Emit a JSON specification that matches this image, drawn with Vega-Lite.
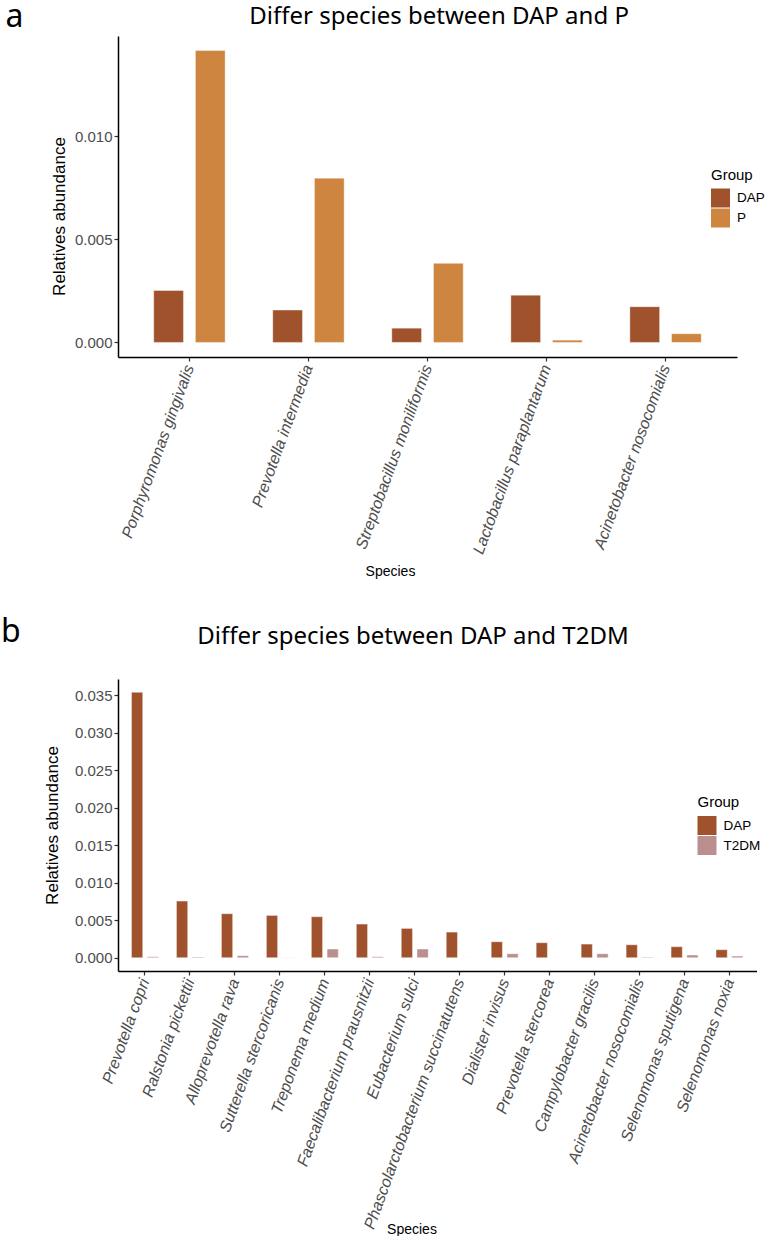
{
  "$schema": "https://vega.github.io/schema/vega-lite/v6.json",
  "background": "white",
  "padding": {"left": 0, "top": 0, "right": 0, "bottom": 0},
  "spacing": 37,
  "config": {
    "view": {"stroke": null},
    "font": "Liberation Sans",
    "axis": {"grid": false, "domainColor": "black", "domainWidth": 1.5, "tickColor": "#333333", "tickWidth": 1.2, "tickSize": 4, "labelColor": "#4D4D4D", "labelFont": "Liberation Sans", "titleFont": "Liberation Sans", "titleColor": "black", "titleFontWeight": "normal"},
    "legend": {"titleFont": "Liberation Sans", "titleFontSize": 15, "titleFontWeight": "normal", "titleColor": "black", "labelFont": "Liberation Sans", "labelFontSize": 13.5, "labelColor": "black", "symbolType": "square", "symbolSize": 361, "symbolStrokeWidth": 0, "rowPadding": 1, "labelOffset": 7, "titlePadding": 6}
  },
  "resolve": {"scale": {"color": "independent", "x": "independent", "y": "independent", "xOffset": "independent"}, "legend": {"color": "independent"}},
  "vconcat": [
    {
      "width": 619,
      "height": 321,
      "data": {"values": [
        {"Species": "Porphyromonas gingivalis", "Group": "DAP", "Abundance": 0.00252},
        {"Species": "Porphyromonas gingivalis", "Group": "P", "Abundance": 0.01414},
        {"Species": "Prevotella intermedia", "Group": "DAP", "Abundance": 0.00157},
        {"Species": "Prevotella intermedia", "Group": "P", "Abundance": 0.00796},
        {"Species": "Streptobacillus moniliformis", "Group": "DAP", "Abundance": 0.00069},
        {"Species": "Streptobacillus moniliformis", "Group": "P", "Abundance": 0.00383},
        {"Species": "Lactobacillus paraplantarum", "Group": "DAP", "Abundance": 0.00229},
        {"Species": "Lactobacillus paraplantarum", "Group": "P", "Abundance": 0.00011},
        {"Species": "Acinetobacter nosocomialis", "Group": "DAP", "Abundance": 0.00173},
        {"Species": "Acinetobacter nosocomialis", "Group": "P", "Abundance": 0.00042}
      ]},
      "layer": [
        {
          "mark": {"type": "bar", "stroke": "white", "strokeWidth": 0.6, "strokeOpacity": 0.7},
          "encoding": {
            "x": {"field": "Species", "type": "nominal", "sort": null,
              "scale": {"paddingInner": 0.4, "paddingOuter": 0.3},
              "axis": {"orient": "bottom", "title": "Species", "titleFontSize": 14, "titleX": 272, "titleY": 214, "titleAlign": "center", "titleBaseline": "middle", "labelAngle": -70, "labelAlign": "right", "labelBaseline": "middle", "labelFontSize": 16, "labelFontStyle": "italic", "labelPadding": 4, "labelLimit": 0, "labelOverlap": false, "labelFlush": false}},
            "xOffset": {"field": "Group", "type": "nominal", "sort": ["DAP", "P"], "scale": {"paddingInner": 0.286, "paddingOuter": 0}},
            "y": {"field": "Abundance", "type": "quantitative", "stack": null,
              "scale": {"domain": [-0.000707, 0.014847], "nice": false},
              "axis": {"orient": "left", "values": [0, 0.005, 0.01], "format": ".3f", "labelFontSize": 15, "labelPadding": 2, "title": "Relatives abundance", "titleFontSize": 17, "titleX": -59, "titleY": 180, "titleAngle": -90, "titleAlign": "center", "titleBaseline": "middle"}},
            "color": {"field": "Group", "type": "nominal",
              "scale": {"domain": ["DAP", "P"], "range": ["#A0522D", "#CD853F"]},
              "legend": {"title": "Group", "orient": "none", "legendX": 593, "legendY": 131.5}}
          }
        },
        {
          "transform": [{"filter": "false"}],
          "mark": {"type": "point", "opacity": 0},
          "encoding": {
            "x": {"field": "Species", "type": "nominal", "sort": null,
              "axis": {"orient": "top", "labels": false, "ticks": false, "domain": false, "title": "Differ species between DAP and P", "titleFont": "Noto Sans", "titleFontSize": 24, "titleX": 320.6, "titleY": -12.6, "titleAlign": "center", "titleBaseline": "alphabetic"}},
            "y": {"field": "Abundance", "type": "quantitative",
              "axis": {"orient": "right", "labels": false, "ticks": false, "domain": false, "title": "a", "titleFont": "Noto Sans", "titleFontSize": 32, "titleAngle": 0, "titleX": -732, "titleY": -9.6, "titleAlign": "left", "titleBaseline": "alphabetic"}}
          }
        }
      ],
      "resolve": {"axis": {"x": "independent", "y": "independent"}}
    },
    {
      "width": 638.5,
      "height": 292,
      "data": {"values": [
        {"Species": "Prevotella copri", "Group": "DAP", "Abundance": 0.0354},
        {"Species": "Prevotella copri", "Group": "T2DM", "Abundance": 0.00013},
        {"Species": "Ralstonia pickettii", "Group": "DAP", "Abundance": 0.00756},
        {"Species": "Ralstonia pickettii", "Group": "T2DM", "Abundance": 0.0001},
        {"Species": "Alloprevotella rava", "Group": "DAP", "Abundance": 0.00587},
        {"Species": "Alloprevotella rava", "Group": "T2DM", "Abundance": 0.00027},
        {"Species": "Sutterella stercoricanis", "Group": "DAP", "Abundance": 0.00564},
        {"Species": "Sutterella stercoricanis", "Group": "T2DM", "Abundance": 0.00002},
        {"Species": "Treponema medium", "Group": "DAP", "Abundance": 0.00547},
        {"Species": "Treponema medium", "Group": "T2DM", "Abundance": 0.00116},
        {"Species": "Faecalibacterium prausnitzii", "Group": "DAP", "Abundance": 0.00449},
        {"Species": "Faecalibacterium prausnitzii", "Group": "T2DM", "Abundance": 0.00013},
        {"Species": "Eubacterium sulci", "Group": "DAP", "Abundance": 0.00391},
        {"Species": "Eubacterium sulci", "Group": "T2DM", "Abundance": 0.00116},
        {"Species": "Phascolarctobacterium succinatutens", "Group": "DAP", "Abundance": 0.00342},
        {"Species": "Phascolarctobacterium succinatutens", "Group": "T2DM", "Abundance": 0.00001},
        {"Species": "Dialister invisus", "Group": "DAP", "Abundance": 0.00213},
        {"Species": "Dialister invisus", "Group": "T2DM", "Abundance": 0.00053},
        {"Species": "Prevotella stercorea", "Group": "DAP", "Abundance": 0.002},
        {"Species": "Prevotella stercorea", "Group": "T2DM", "Abundance": 0.00001},
        {"Species": "Campylobacter gracilis", "Group": "DAP", "Abundance": 0.00182},
        {"Species": "Campylobacter gracilis", "Group": "T2DM", "Abundance": 0.00053},
        {"Species": "Acinetobacter nosocomialis", "Group": "DAP", "Abundance": 0.00173},
        {"Species": "Acinetobacter nosocomialis", "Group": "T2DM", "Abundance": 0.00008},
        {"Species": "Selenomonas sputigena", "Group": "DAP", "Abundance": 0.00147},
        {"Species": "Selenomonas sputigena", "Group": "T2DM", "Abundance": 0.00036},
        {"Species": "Selenomonas noxia", "Group": "DAP", "Abundance": 0.00107},
        {"Species": "Selenomonas noxia", "Group": "T2DM", "Abundance": 0.00022}
      ]},
      "layer": [
        {
          "mark": {"type": "bar", "stroke": "white", "strokeWidth": 0.6, "strokeOpacity": 0.7},
          "encoding": {
            "x": {"field": "Species", "type": "nominal", "sort": null,
              "scale": {"paddingInner": 0.4, "paddingOuter": 0.3},
              "axis": {"orient": "bottom", "title": "Species", "titleFontSize": 14, "titleX": 293.5, "titleY": 258, "titleAlign": "center", "titleBaseline": "middle", "labelAngle": -70, "labelAlign": "right", "labelBaseline": "middle", "labelFontSize": 16, "labelFontStyle": "italic", "labelPadding": 4, "labelLimit": 0, "labelOverlap": false, "labelFlush": false}},
            "xOffset": {"field": "Group", "type": "nominal", "sort": ["DAP", "T2DM"], "scale": {"paddingInner": 0.286, "paddingOuter": 0}},
            "y": {"field": "Abundance", "type": "quantitative", "stack": null,
              "scale": {"domain": [-0.00177, 0.03717], "nice": false},
              "axis": {"orient": "left", "values": [0, 0.005, 0.01, 0.015, 0.02, 0.025, 0.03, 0.035], "format": ".3f", "labelFontSize": 15, "labelPadding": 2, "title": "Relatives abundance", "titleFontSize": 17, "titleX": -65.5, "titleY": 146, "titleAngle": -90, "titleAlign": "center", "titleBaseline": "middle"}},
            "color": {"field": "Group", "type": "nominal",
              "scale": {"domain": ["DAP", "T2DM"], "range": ["#A0522D", "#BC8F8F"]},
              "legend": {"title": "Group", "orient": "none", "legendX": 579.5, "legendY": 116}}
          }
        },
        {
          "transform": [{"filter": "false"}],
          "mark": {"type": "point", "opacity": 0},
          "encoding": {
            "x": {"field": "Species", "type": "nominal", "sort": null,
              "axis": {"orient": "top", "labels": false, "ticks": false, "domain": false, "title": "Differ species between DAP and T2DM", "titleFont": "Noto Sans", "titleFontSize": 24, "titleX": 294.5, "titleY": -36, "titleAlign": "center", "titleBaseline": "alphabetic"}},
            "y": {"field": "Abundance", "type": "quantitative",
              "axis": {"orient": "right", "labels": false, "ticks": false, "domain": false, "title": "b", "titleFont": "Noto Sans", "titleFontSize": 32, "titleAngle": 0, "titleX": -756, "titleY": -38, "titleAlign": "left", "titleBaseline": "alphabetic"}}
          }
        }
      ],
      "resolve": {"axis": {"x": "independent", "y": "independent"}}
    }
  ]
}
